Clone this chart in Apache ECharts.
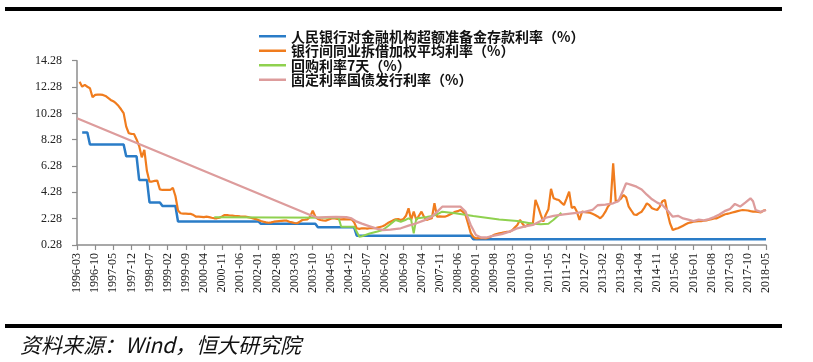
<!DOCTYPE html>
<html>
<head>
<meta charset="utf-8">
<script src="https://cdn.jsdelivr.net/npm/echarts@6/dist/echarts.min.js"></script>
<style>html,body{margin:0;padding:0;background:#fff;}#c{width:813px;height:362px;}</style>
</head>
<body>
<div id="c"></div>
<script>
// month categories 1996-03 .. 2018-05
const categories = [];
for (let y = 1996; y <= 2018; y++) {
  for (let m = 1; m <= 12; m++) {
    if (y === 1996 && m < 3) continue;
    if (y === 2018 && m > 5) break;
    categories.push(y + '-' + (m < 10 ? '0' + m : m));
  }
}
const yTicks = [0.28, 2.28, 4.28, 6.28, 8.28, 10.28, 12.28, 14.28];

const seriesNames = [
  '人民银行对金融机构超额准备金存款利率（%）',
  '银行间同业拆借加权平均利率（%）',
  '回购利率7天（%）',
  '固定利率国债发行利率（%）'
];

// 超额准备金存款利率 (change points)
const excessReserve = [
  ['1996-05',8.82],['1996-07',8.82],['1996-08',7.92],['1997-09',7.92],['1997-10',7.02],
  ['1998-02',7.02],['1998-03',5.22],['1998-06',5.22],['1998-07',3.51],['1998-11',3.51],
  ['1998-12',3.24],['1999-05',3.24],['1999-06',2.07],['2002-01',2.07],['2002-02',1.89],
  ['2003-11',1.89],['2003-12',1.62],['2005-02',1.62],['2005-03',0.99],['2008-11',0.99],
  ['2008-12',0.72],['2018-05',0.72]
];

// 银行间同业拆借加权平均利率 (monthly, 1996-03 ..)
const interbank = [
  null, 12.69, 12.31, 12.44, 12.30, 12.19, 11.50, 11.68, 11.70, 11.70,
  11.68, 11.60, 11.45, 11.30, 11.20, 11.05, 10.85, 10.59, 10.30, 9.27, 8.77, 8.72,
  8.71, 8.30, 7.80, 6.94, 7.50, 5.90, 5.09, 5.10, 5.15, 5.17, 4.50, 4.46,
  4.46, 4.46, 4.46, 4.63, 4.00, 2.90, 2.69, 2.67, 2.66, 2.65, 2.64, 2.55,
  2.43, 2.43, 2.42, 2.40, 2.43, 2.40, 2.35, 2.31, 2.31, 2.35, 2.45, 2.56,
  2.55, 2.52, 2.51, 2.48, 2.47, 2.45, 2.44, 2.43, 2.40, 2.35, 2.30, 2.25,
  2.18, 2.10, 2.05, 2.00, 1.97, 2.00, 2.05, 2.08, 2.10, 2.12, 2.13, 2.13,
  2.05, 2.00, 1.95, 1.93, 2.05, 2.18, 2.20, 2.23, 2.43, 2.89, 2.45, 2.25,
  2.18, 2.15, 2.13, 2.20, 2.28, 2.31, 2.28, 2.25, 2.23, 2.25, 2.23, 2.22,
  2.23, 2.00, 1.55, 1.50, 1.55, 1.55, 1.52, 1.55, 1.58, 1.55, 1.60, 1.65,
  1.70, 1.80, 1.95, 2.05, 2.15, 2.23, 2.25, 2.18, 2.25, 2.50, 3.07, 2.18,
  2.81, 2.18, 2.50, 2.81, 2.40, 2.18, 2.25, 2.31, 3.45, 2.43, 2.45, 2.43,
  2.43, 2.50, 2.60, 2.69, 2.80, 2.85, 2.94, 2.80, 2.56, 1.90, 1.20, 0.90,
  0.79, 0.80, 0.80, 0.80, 0.79, 0.85, 0.95, 1.05, 1.12, 1.17, 1.20, 1.25,
  1.28, 1.29, 1.40, 1.60, 1.80, 2.18, 1.90, 1.67, 1.80, 1.90, 1.93, 3.70,
  3.19, 2.60, 2.05, 2.60, 3.00, 4.55, 3.83, 3.75, 3.70, 3.50, 3.32, 3.80,
  4.33, 3.10, 3.19, 2.80, 2.18, 2.81, 2.78, 2.75, 2.73, 2.65, 2.56, 2.45,
  2.31, 2.50, 2.81, 3.20, 3.45, 6.49, 3.57, 3.65, 3.80, 4.08, 3.90, 3.19,
  2.90, 2.60, 2.56, 2.70, 2.81, 3.10, 3.45, 3.30, 3.07, 3.00, 2.94, 3.20,
  3.60, 3.70, 2.69, 1.90, 1.42, 1.50, 1.55, 1.65, 1.75, 1.85, 1.95, 2.00,
  2.05, 2.08, 2.10, 2.10, 2.12, 2.15, 2.20, 2.25, 2.30, 2.31, 2.40, 2.50,
  2.60, 2.65, 2.69, 2.75, 2.80, 2.85, 2.90, 2.94, 2.92, 2.90, 2.85, 2.82,
  2.81, 2.80, 2.75, 2.90, 2.94
];

// 回购利率7天
const repo7d = [
  ['2000-08',2.38],['2004-08',2.35],['2004-09',1.67],['2005-02',1.67],['2005-04',0.91],
  ['2005-05',0.95],['2005-08',1.15],['2005-11',1.30],['2006-01',1.42],['2006-03',1.70],
  ['2006-06',2.18],['2006-08',2.05],['2006-10',2.20],['2006-11',2.31],['2006-12',2.20],
  ['2007-01',1.17],['2007-02',2.30],['2007-04',2.35],['2007-06',2.40],['2007-08',2.48],
  ['2007-10',2.60],['2007-12',2.81],['2008-05',2.70],['2008-12',2.48],['2009-05',2.35],
  ['2009-10',2.22],['2010-05',2.10],['2010-11',1.90],['2011-02',1.85],['2011-05',1.90],
  ['2011-07',2.20],['2011-10',2.73]
];

// 固定利率国债发行利率
const treasury = [
  ['1996-03',9.91],['2003-09',2.56],['2003-12',2.35],['2004-03',2.40],['2004-07',2.42],
  ['2004-11',2.40],['2005-01',2.30],['2005-03',2.05],['2005-05',1.90],['2005-08',1.70],
  ['2005-11',1.50],['2006-01',1.42],['2006-04',1.45],['2006-08',1.55],['2006-11',1.75],
  ['2007-02',1.93],['2007-05',2.15],['2007-08',2.43],['2007-10',2.80],['2007-12',3.19],
  ['2008-04',3.20],['2008-07',3.19],['2008-09',2.81],['2008-11',1.80],['2009-01',1.04],
  ['2009-03',0.85],['2009-05',0.85],['2009-08',1.00],['2009-11',1.10],['2010-02',1.30],
  ['2010-05',1.55],['2010-08',1.70],['2010-11',1.80],['2011-02',2.10],['2011-04',2.35],
  ['2011-07',2.50],['2011-11',2.60],['2012-03',2.70],['2012-07',2.80],['2012-10',2.94],
  ['2012-12',3.30],['2013-03',3.35],['2013-06',3.45],['2013-08',3.60],['2013-10',4.50],
  ['2013-11',4.97],['2014-01',4.85],['2014-03',4.71],['2014-05',4.50],['2014-07',4.10],
  ['2014-09',3.75],['2014-11',3.50],['2015-01',3.32],['2015-03',2.90],['2015-05',2.43],
  ['2015-07',2.50],['2015-09',2.30],['2015-11',2.20],['2016-01',2.10],['2016-03',2.20],
  ['2016-05',2.15],['2016-07',2.25],['2016-09',2.40],['2016-11',2.60],['2017-01',2.85],
  ['2017-03',3.00],['2017-05',3.40],['2017-07',3.20],['2017-09',3.50],['2017-11',3.83],
  ['2017-12',3.60],['2018-01',2.94],['2018-03',2.80],['2018-05',2.94]
];

const colors = ['#2a7cc7', '#f07c1e', '#8fd14f', '#dd9c9c'];
const widths = [2.5, 2.2, 2, 2.3];
const dataSets = [excessReserve, interbank, repo7d, treasury];

const chart = echarts.init(document.getElementById('c'));
chart.setOption({
  animation: false,
  backgroundColor: '#fff',
  color: colors,
  grid: { left: 77, right: 47, top: 60.7, bottom: 117, containLabel: false },
  legend: {
    orient: 'vertical',
    left: 254,
    top: 24,
    icon: 'rect',
    itemWidth: 27,
    itemHeight: 2.5,
    itemGap: 0,
    textStyle: { fontFamily: 'Noto Sans CJK SC', fontWeight: 'bold', fontSize: 14, color: '#111', lineHeight: 14.5 },
    data: seriesNames
  },
  xAxis: {
    type: 'category',
    data: categories,
    boundaryGap: false,
    axisLine: { lineStyle: { color: '#8c8c8c', width: 1.5 } },
    axisTick: { interval: 6, length: 5, lineStyle: { color: '#8c8c8c', width: 1.2 } },
    axisLabel: { interval: 6, rotate: 90, margin: 8, fontFamily: 'Liberation Serif', fontSize: 12, color: '#222' },
    splitLine: { show: false }
  },
  yAxis: {
    type: 'value',
    min: yTicks[0],
    max: yTicks[yTicks.length - 1],
    interval: 2,
    axisLine: { show: true, lineStyle: { color: '#8c8c8c', width: 1.5 } },
    axisTick: { show: true, length: 5, lineStyle: { color: '#8c8c8c', width: 1.2 } },
    axisLabel: { margin: 15, fontFamily: 'Liberation Serif', fontSize: 12, color: '#222',
      formatter: v => v.toFixed(2) },
    splitLine: { show: false }
  },
  graphic: [
    { type: 'rect', shape: { x: 5, y: 7, width: 777, height: 4 }, style: { fill: '#000' } },
    { type: 'rect', shape: { x: 5, y: 324, width: 777, height: 4 }, style: { fill: '#000' } },
    { type: 'text', left: 20, top: 335, style: { text: '资料来源：Wind，恒大研究院', fontFamily: 'Noto Sans CJK SC', fontStyle: 'italic', fontSize: 21, fill: '#111' } }
  ],
  series: seriesNames.map((n, k) => ({
    name: n,
    type: 'line',
    data: dataSets[k],
    symbol: 'none',
    showSymbol: false,
    connectNulls: true,
    lineStyle: { width: widths[k], color: colors[k] },
    itemStyle: { color: colors[k] }
  }))
});
</script>
</body>
</html>
